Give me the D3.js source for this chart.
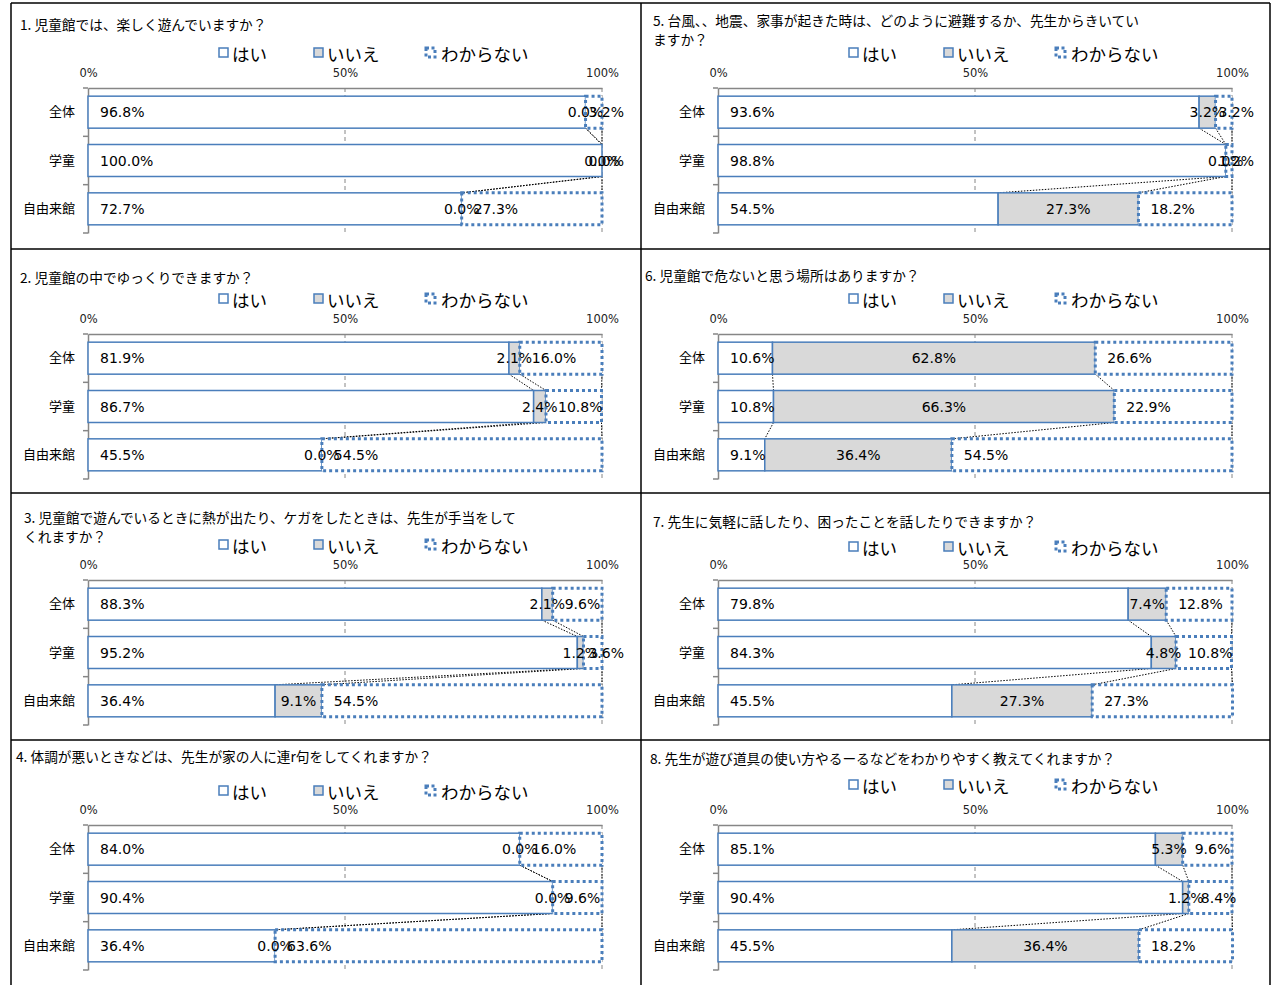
<!DOCTYPE html>
<html><head><meta charset="utf-8">
<script src="https://cdn.jsdelivr.net/npm/d3@7"></script>
<style>
html,body{margin:0;padding:0;background:#fff;}
svg{display:block;}
</style></head>
<body>
<svg id="c" width="1278" height="985"></svg>
<script>
// ---- data ----
const categories = ["全体", "学童", "自由来館"];
const seriesNames = ["はい", "いいえ", "わからない"];
const tickLabels = ["0%", "50%", "100%"];
const tickValues = [0, 50, 100];
const titles = [
  ["1. 児童館では、楽しく遊んでいますか？"],
  ["2. 児童館の中でゆっくりできますか？"],
  ["3. 児童館で遊んでいるときに熱が出たり、ケガをしたときは、先生が手当をして", "くれますか？"],
  ["4. 体調が悪いときなどは、先生が家の人に連r句をしてくれますか？"],
  ["5. 台風、、地震、家事が起きた時は、どのように避難するか、先生からきいてい", "ますか？"],
  ["6. 児童館で危ないと思う場所はありますか？"],
  ["7. 先生に気軽に話したり、困ったことを話したりできますか？"],
  ["8. 先生が遊び道具の使い方やるーるなどをわかりやすく教えてくれますか？"]
];
// values per question: [全体, 学童, 自由来館]
const haiValues = [
  [96.8, 100.0, 72.7],
  [81.9, 86.7, 45.5],
  [88.3, 95.2, 36.4],
  [84.0, 90.4, 36.4],
  [93.6, 98.8, 54.5],
  [10.6, 10.8, 9.1],
  [79.8, 84.3, 45.5],
  [85.1, 90.4, 45.5]
];
const iieValues = [
  [0.0, 0.0, 0.0],
  [2.1, 2.4, 0.0],
  [2.1, 1.2, 9.1],
  [0.0, 0.0, 0.0],
  [3.2, 0.0, 27.3],
  [62.8, 66.3, 36.4],
  [7.4, 4.8, 27.3],
  [5.3, 1.2, 36.4]
];
const wakaranaiValues = [
  [3.2, 0.0, 27.3],
  [16.0, 10.8, 54.5],
  [9.6, 3.6, 54.5],
  [16.0, 9.6, 63.6],
  [3.2, 1.2, 18.2],
  [26.6, 22.9, 54.5],
  [12.8, 10.8, 27.3],
  [9.6, 8.4, 18.2]
];

// ---- layout ----
const colX = [0, 630];
const rowY = [0, 246, 492, 737];
const titlePos = [[20,24],[20,277],[24,517],[16,756],[653,20],[645,275],[653,521],[650,758]];
const legendY = [53, 299, 545, 791, 53, 299, 547, 785];

const BLUE = "#4a7ebb";
const GRAY = "#d9d9d9";
const AXIS = "#868686";
const JP = "'Noto Sans CJK JP','Noto Sans CJK SC',sans-serif";
const LAT = "'DejaVu Sans',Verdana,sans-serif";

const svg = d3.select("#c");

// panel borders
const borders = svg.append("g").attr("stroke", "#000").attr("stroke-width", 1.5);
[[11,3,1270,3],[11,3,11,985],[641,3,641,985],[1270,3,1270,985],
 [11,249,1270,249],[11,493,1270,493],[11,740,1270,740]].forEach(l=>{
  borders.append("line").attr("x1",l[0]).attr("y1",l[1]).attr("x2",l[2]).attr("y2",l[3]);
});

for (let p = 0; p < 8; p++) {
  const col = p < 4 ? 0 : 1;
  const row = p % 4;
  const ox = colX[col], oy = rowY[row];
  const g = svg.append("g");

  // title
  titles[p].forEach((t, i) => {
    g.append("text").attr("x", titlePos[p][0]).attr("y", titlePos[p][1] + i * 19)
      .attr("dominant-baseline", "central").attr("font-family", JP).attr("font-size", 13.7)
      .attr("fill", "#000").text(t);
  });

  // legend
  const lg = g.append("g").attr("transform", `translate(${218 + ox},${legendY[p]})`);
  const legX = [0, 95, 207];
  seriesNames.forEach((s, i) => {
    const r = lg.append("rect").attr("x", legX[i] + 1).attr("y", -5).attr("width", 9).attr("height", 9)
      .attr("fill", i === 1 ? GRAY : "#fff").attr("stroke", BLUE);
    if (i === 2) r.attr("stroke-width", 3).attr("stroke-dasharray", "3,2.5");
    else r.attr("stroke-width", 1.5);
    lg.append("text").attr("x", legX[i] + 14 + (i === 2 ? 2 : 0)).attr("y", 0)
      .attr("dominant-baseline", "central").attr("font-family", JP).attr("font-size", 17.5)
      .attr("fill", "#000").text(s);
  });

  // scales
  const x = d3.scaleLinear().domain([0, 100]).range([88 + ox, 602 + ox]);
  const y = d3.scaleBand().domain(categories).range([88 + oy, 233 + oy])
    .paddingInner(0.338).paddingOuter(0.169);
  const top = 88 + oy, bot = 233 + oy;

  // gridlines (50%, 100%)
  g.append("g").selectAll("line").data([50, 100]).join("line")
    .attr("x1", d => x(d)).attr("x2", d => x(d)).attr("y1", top).attr("y2", bot)
    .attr("stroke", AXIS).attr("stroke-width", 1).attr("stroke-dasharray", "4,3");

  // top axis
  const xa = g.append("g").attr("transform", `translate(0,${top})`)
    .call(d3.axisTop(x).tickValues(tickValues).tickFormat((d, i) => tickLabels[i]).tickSize(0).tickPadding(11));
  xa.select(".domain").attr("stroke", AXIS).attr("stroke-width", 1.5);
  xa.selectAll("text").attr("font-family", LAT).attr("font-size", 11.5).attr("fill", "#222");

  // left axis
  const ya = g.append("g").attr("transform", `translate(${x(0)},0)`)
    .call(d3.axisLeft(y).tickSize(0).tickPadding(13));
  ya.select(".domain").attr("stroke", AXIS).attr("stroke-width", 1.5);
  ya.selectAll("text").attr("font-family", JP).attr("font-size", 13).attr("fill", "#000");
  // category boundary tick marks
  const step = y.step();
  const bounds = [top, top + step, top + 2 * step, bot];
  g.append("g").selectAll("line").data(bounds).join("line")
    .attr("x1", x(0) - 5).attr("x2", x(0)).attr("y1", d => d).attr("y2", d => d)
    .attr("stroke", AXIS).attr("stroke-width", 1.5);

  // stacked data
  const rows = categories.map((c, i) => ({
    cat: c, vals: [haiValues[p][i], iieValues[p][i], wakaranaiValues[p][i]]
  }));
  rows.forEach(r => {
    let acc = 0;
    r.segs = r.vals.map((v, k) => { const s = { k, v, x0: acc, x1: acc + v }; acc += v; return s; });
  });

  // series lines
  const sl = g.append("g").attr("stroke", "#000").attr("stroke-width", 1).attr("stroke-dasharray", "1.5,1.5");
  for (let i = 0; i < rows.length - 1; i++) {
    for (let k = 0; k < 3; k++) {
      sl.append("line")
        .attr("x1", x(rows[i].segs[k].x1)).attr("y1", y(rows[i].cat) + y.bandwidth())
        .attr("x2", x(rows[i + 1].segs[k].x1)).attr("y2", y(rows[i + 1].cat));
    }
  }

  // bars
  const bars = g.append("g");
  rows.forEach(r => {
    r.segs.forEach(s => {
      const rect = bars.append("rect")
        .attr("x", x(s.x0)).attr("y", y(r.cat))
        .attr("width", Math.max(0, x(s.x1) - x(s.x0))).attr("height", y.bandwidth())
        .attr("fill", s.k === 1 ? GRAY : "#fff").attr("stroke", BLUE);
      if (s.k === 2) rect.attr("stroke-width", 3).attr("stroke-dasharray", "3,3");
      else rect.attr("stroke-width", 1.5);
    });
  });

  // labels
  const labs = g.append("g");
  const maxRight = x(100) + 22;
  rows.forEach(r => {
    r.segs.forEach(s => {
      const cy = y(r.cat) + y.bandwidth() / 2;
      const t = labs.append("text").attr("y", cy).attr("dominant-baseline", "central")
        .attr("font-family", LAT).attr("font-size", 14).attr("fill", "#000")
        .text(s.v.toFixed(1) + "%");
      const w = t.node().getComputedTextLength();
      let lx;
      if (s.k === 1) lx = (x(s.x0) + x(s.x1)) / 2 - w / 2;
      else lx = x(s.x0) + 12;
      if (lx + w > maxRight) lx = maxRight - w;
      t.attr("x", lx);
    });
  });
}
</script>
</body></html>
